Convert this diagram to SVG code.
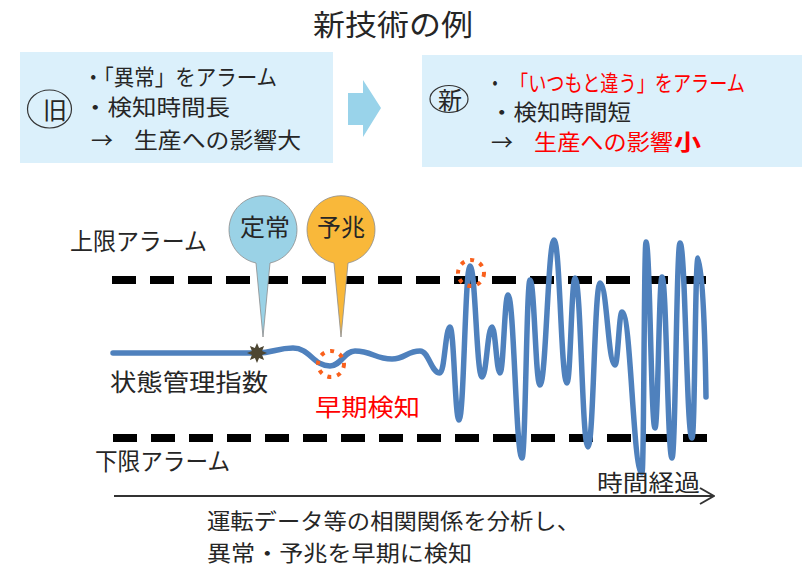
<svg xmlns="http://www.w3.org/2000/svg" width="804" height="568" viewBox="0 0 804 568">
<defs>
<style>
text{font-family:"Noto Sans CJK JP","Noto Sans",sans-serif;fill:#262626}
.red{fill:#ff0000}
.box{fill:#dbf0fb}
.dash{stroke:#000;stroke-width:8;stroke-dasharray:24 14;fill:none}
.wave{stroke:#4f81bd;stroke-width:5.5;fill:none;stroke-linecap:round;stroke-linejoin:round}
.ring{stroke:#f9601c;stroke-width:4;stroke-dasharray:4 6;fill:none}
.balloon{stroke:#8c8c8c;stroke-width:0.8}
</style>
<marker id="open" viewBox="0 0 16 18" refX="15" refY="9" markerWidth="16" markerHeight="18" markerUnits="userSpaceOnUse" orient="auto">
<path d="M1,1 L15,9 L1,17" fill="none" stroke="#333" stroke-width="2"/>
</marker>
</defs>
<rect width="804" height="568" fill="#fff"/>

<g id="title"><text x="313" y="36" font-size="29" textLength="160" lengthAdjust="spacingAndGlyphs">新技術の例</text></g>

<g id="old-box">
<rect class="box" x="20" y="52" width="313" height="111"/>
<ellipse cx="49.5" cy="109" rx="22" ry="19" fill="none" stroke="#333" stroke-width="1.2"/>
<text x="55" y="119" font-size="24" text-anchor="middle">旧</text>
<text x="83" y="85" font-size="22" textLength="194" lengthAdjust="spacingAndGlyphs">・「異常」をアラーム</text>
<text x="83" y="115" font-size="22" textLength="147" lengthAdjust="spacingAndGlyphs">・検知時間長</text>
<text x="91" y="148" font-size="22">→</text>
<text x="134" y="148" font-size="22" textLength="167" lengthAdjust="spacingAndGlyphs">生産への影響大</text>
</g>

<g id="arrow-block"><polygon points="348,93 363,93 363,80 381,108 363,137 363,125 348,125" fill="#99d3ea"/></g>

<g id="new-box">
<rect class="box" x="422" y="55" width="380" height="112"/>
<ellipse cx="449" cy="99" rx="19" ry="13.5" fill="none" stroke="#333" stroke-width="1.2"/>
<text x="450" y="109" font-size="24" text-anchor="middle">新</text>
<text x="486" y="91" font-size="22" textLength="18" lengthAdjust="spacingAndGlyphs">・</text>
<text class="red" x="510" y="91" font-size="22" textLength="235" lengthAdjust="spacingAndGlyphs">「いつもと違う」をアラーム</text>
<text x="490" y="120" font-size="22" textLength="141" lengthAdjust="spacingAndGlyphs">・検知時間短</text>
<text x="491" y="150" font-size="22">→</text>
<text class="red" x="534" y="150" font-size="22" textLength="139" lengthAdjust="spacingAndGlyphs">生産への影響</text>
<text class="red" x="674" y="150" font-size="22" font-weight="bold" textLength="27" lengthAdjust="spacingAndGlyphs">小</text>
</g>

<g id="limits">
<line class="dash" x1="112" y1="280" x2="708" y2="280"/>
<line class="dash" x1="113" y1="438" x2="708" y2="438"/>
<text x="70" y="250" font-size="24" textLength="137" lengthAdjust="spacingAndGlyphs">上限アラーム</text>
<text x="95" y="470" font-size="24" textLength="135" lengthAdjust="spacingAndGlyphs">下限アラーム</text>
</g>

<g id="connectors">
<line x1="114" y1="496" x2="714" y2="496" stroke="#333" stroke-width="2" marker-end="url(#open)"/>
</g>

<g id="signal">
<path class="wave" d="M113,353 L257,353 C273,353 277,348 293,348 C310,348 313,366 330,366 C341,366 344,351 355,351 C372,351 375,359 392,359 C405,359 407,351 420,351 C429,351 431,373 440,373 C444.5,373 445.5,327 450,327 C454,327 455,420 459,420 C464,420 465,266 470,266 C475.5,266 476.5,377 482,377 C486.5,377 487.5,327 492,327 C495.5,327 496.5,373 500,373 C503.5,373 504.5,295 508,295 C514,295 516,458 522,458 C525.5,458 526.5,280 530,280 C534.5,280 535.5,385 540,385 C546,385 548,240 554,240 C560,240 561,383 567,383 C570.5,383 571.5,278 575,278 C581,278 582,447 588,447 C593.5,447 594.5,283 600,283 C607,283 608,365 615,365 C618,365 619,312 622,312 C631,312 633,473 642,473 C644,473 644,242 646,242 C650,242 651,428 655,428 C658,428 659,277 662,277 C666.5,277 667.5,458 672,458 C675.5,458 676.5,243 680,243 C685.5,243 686.5,438 692,438 C695,438 695,258 698,258 C702,258 705,330 706,397"/>
<text x="110" y="391" font-size="24" textLength="158" lengthAdjust="spacingAndGlyphs">状態管理指数</text>
</g>

<g id="balloon-normal">
<path class="balloon" fill="#9ad2e6" d="M270,263 A34,34 0 1 0 256,263 L263,337 Z"/>
<text x="265" y="236" font-size="24" text-anchor="middle" textLength="50" lengthAdjust="spacingAndGlyphs">定常</text>
</g>

<g id="balloon-sign">
<path class="balloon" fill="#f9b83a" d="M348,263 A34,34 0 1 0 334,263 L341,337 Z"/>
<text x="341" y="236" font-size="24" text-anchor="middle" textLength="48" lengthAdjust="spacingAndGlyphs">予兆</text>
</g>

<g id="star"><polygon fill="#4d4632" points="257,343 259.1,347.9 264.1,345.9 262.1,350.9 267,353 262.1,355.1 264.1,360.1 259.1,358.1 257,363 254.9,358.1 249.9,360.1 251.9,355.1 247,353 251.9,350.9 249.9,345.9 254.9,347.9"/></g>

<g id="early-detect">
<circle class="ring" cx="331" cy="364" r="13"/>
<text class="red" x="315" y="416" font-size="24" textLength="105" lengthAdjust="spacingAndGlyphs">早期検知</text>
</g>
<g id="alarm-hit"><circle class="ring" cx="471" cy="273" r="13"/></g>

<g id="time-axis">
<text x="597" y="491" font-size="23" textLength="103" lengthAdjust="spacingAndGlyphs">時間経過</text>
</g>

<g id="caption">
<text x="207" y="529" font-size="22" textLength="373" lengthAdjust="spacingAndGlyphs">運転データ等の相関関係を分析し、</text>
<text x="207" y="561" font-size="22" textLength="265" lengthAdjust="spacingAndGlyphs">異常・予兆を早期に検知</text>
</g>
</svg>
